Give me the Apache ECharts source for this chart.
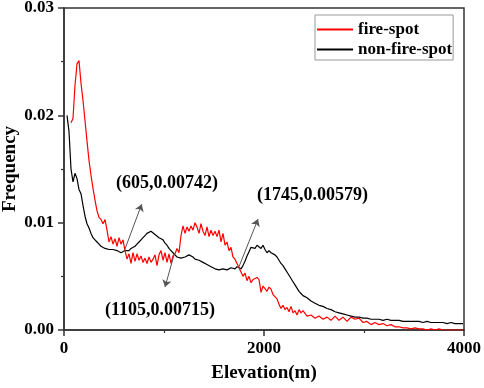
<!DOCTYPE html>
<html>
<head>
<meta charset="utf-8">
<script src="https://cdn.jsdelivr.net/npm/echarts@6/dist/echarts.min.js"></script>
<style>
  html, body { margin: 0; padding: 0; background: #fff; }
  #main { width: 484px; height: 388px; }
</style>
</head>
<body>
<div id="main"></div>
<script>
// elevation (m) - 20 m steps up to 2390, 40 m steps after
var elevation = [
  30, 50, 70, 90, 110, 130, 150, 170, 190, 210,
  230, 250, 270, 290, 310, 330, 350, 370, 390, 410,
  430, 450, 470, 490, 510, 530, 550, 570, 590, 610,
  630, 650, 670, 690, 710, 730, 750, 770, 790, 810,
  830, 850, 870, 890, 910, 930, 950, 970, 990, 1010,
  1030, 1050, 1070, 1090, 1110, 1130, 1150, 1170, 1190, 1210,
  1230, 1250, 1270, 1290, 1310, 1330, 1350, 1370, 1390, 1410,
  1430, 1450, 1470, 1490, 1510, 1530, 1550, 1570, 1590, 1610,
  1630, 1650, 1670, 1690, 1710, 1730, 1750, 1770, 1790, 1810,
  1830, 1850, 1870, 1890, 1910, 1930, 1950, 1970, 1990, 2010,
  2030, 2050, 2070, 2090, 2110, 2130, 2150, 2170, 2190, 2210,
  2230, 2250, 2270, 2290, 2310, 2330, 2350, 2370, 2390,
  2430, 2470, 2510, 2550, 2590, 2630, 2670, 2710, 2750, 2790,
  2830, 2870, 2910, 2950, 2990, 3030, 3070, 3110, 3150, 3190,
  3230, 3270, 3310, 3350, 3390, 3430, 3470, 3510, 3550, 3590,
  3630, 3670, 3710, 3750, 3790, 3830, 3870, 3910, 3950, 3990
];

var fireSpot = [
  null, null, 0.0193, 0.0197, 0.0228, 0.0248, 0.0251, 0.0230, 0.0214, 0.0195,
  0.0176, 0.0158, 0.0144, 0.0132, 0.0121, 0.0111, 0.0105, 0.0103, 0.0099, 0.0103,
  0.0093, 0.0082, 0.0087, 0.0080, 0.0085, 0.0078, 0.0086, 0.0080, 0.0084, 0.0074,
  0.0066, 0.0071, 0.0062, 0.0072, 0.0064, 0.0071, 0.0065, 0.0069, 0.0063, 0.0067,
  0.0062, 0.0068, 0.0063, 0.0066, 0.0070, 0.0060, 0.0070, 0.0074, 0.0065, 0.0072,
  0.0063, 0.0071, 0.0062, 0.0069, 0.0071, 0.0076, 0.0072, 0.0088, 0.0097, 0.0090,
  0.0096, 0.0092, 0.0097, 0.0093, 0.0100, 0.0096, 0.0090, 0.0099, 0.0092, 0.0088,
  0.0096, 0.0087, 0.0093, 0.0088, 0.0092, 0.0087, 0.0093, 0.0082, 0.0090, 0.0079,
  0.0082, 0.0074, 0.0077, 0.0068, 0.0066, 0.0062, 0.0058, 0.0057, 0.0050, 0.0053,
  0.0046, 0.0050, 0.0044, 0.0047, 0.0048, 0.0049, 0.0047, 0.0035, 0.0041, 0.0042,
  0.0036, 0.0040, 0.0038, 0.0033, 0.0034, 0.0029, 0.0024, 0.0020, 0.0023, 0.0019,
  0.0021, 0.0017, 0.0022, 0.0016, 0.0018, 0.0014, 0.0019, 0.0016, 0.0018,
  0.0013, 0.0014, 0.0011, 0.0013, 0.0010, 0.0012, 0.0009, 0.0013, 0.0009, 0.0012,
  0.0008, 0.0012, 0.0010, 0.0011, 0.0007, 0.0008, 0.0005, 0.0007, 0.0005, 0.0006,
  0.0004, 0.0005, 0.0003, 0.0003, 0.0002, 0.0002, 0.0001, 0.0002, 0.0001, 0.0001,
  0.0000, 0.0001, 0.0000, 0.0001, 0.0000, 0.0000, 0.0000, 0.0000, 0.0000, 0.0000
];

var nonFireSpot = [
  0.0200, 0.0185, 0.0150, 0.0138, 0.0146, 0.0141, 0.0131, 0.0127, 0.0116, 0.0106,
  0.0099, 0.0095, 0.0090, 0.0086, 0.0084, 0.0082, 0.0080, 0.0078, 0.0077, 0.0076,
  0.0076, 0.0075, 0.0075, 0.0075, 0.0074, 0.0074, 0.0073, 0.0072, 0.0073, 0.0074,
  0.0075, 0.0074, 0.0076, 0.0076, 0.0078, 0.0080, 0.0082, 0.0084, 0.0086, 0.0088,
  0.0090, 0.0091, 0.0092, 0.0091, 0.0089, 0.0088, 0.0086, 0.0085, 0.0084, 0.0081,
  0.0079, 0.0076, 0.0074, 0.0072, 0.0070, 0.0068, 0.0067, 0.0067, 0.0068, 0.0068,
  0.0069, 0.0070, 0.0069, 0.0068, 0.0066, 0.0065, 0.0065, 0.0064, 0.0063, 0.0062,
  0.0061, 0.0060, 0.0059, 0.0058, 0.0057, 0.0057, 0.0056, 0.0056, 0.0057, 0.0058,
  0.0056, 0.0057, 0.0058, 0.0059, 0.0057, 0.0059, 0.0058, 0.0057, 0.0060, 0.0064,
  0.0069, 0.0073, 0.0077, 0.0076, 0.0076, 0.0079, 0.0078, 0.0076, 0.0079, 0.0075,
  0.0072, 0.0074, 0.0072, 0.0071, 0.0070, 0.0068, 0.0065, 0.0062, 0.0060, 0.0057,
  0.0054, 0.0051, 0.0048, 0.0045, 0.0042, 0.0039, 0.0036, 0.0034, 0.0032,
  0.0030, 0.0027, 0.0025, 0.0023, 0.0022, 0.0020, 0.0019, 0.0017, 0.0016, 0.0015,
  0.0014, 0.0013, 0.0012, 0.0012, 0.0011, 0.0011, 0.0010, 0.0010, 0.0010, 0.0009,
  0.0010, 0.0009, 0.0009, 0.0009, 0.0008, 0.0008, 0.0008, 0.0008, 0.0008, 0.0007,
  0.0008, 0.0007, 0.0007, 0.0007, 0.0007, 0.0006, 0.0007, 0.0006, 0.0006, 0.0006
];

// annotated crossing points, where the arrow points to, and where the label sits
var annoPoints = [[605, 0.00742], [1105, 0.00715], [1745, 0.00579]];
var annoArrowTo = [[777, 0.01172], [1010, 0.0040], [1940, 0.01033]];
var annoLabelAt = [[1030, 0.01367], [960, 0.00186], [2485, 0.01256]];

var FONT = '"Liberation Serif", "Times New Roman", serif';

var myChart = echarts.init(document.getElementById('main'));

function pairs(ys) {
  var out = [];
  for (var i = 0; i < elevation.length; i++) {
    out.push([elevation[i], ys[i]]);
  }
  return out;
}

var arrowLines = [];
var labelPoints = [];
for (var i = 0; i < annoPoints.length; i++) {
  arrowLines.push([{ coord: annoPoints[i] }, { coord: annoArrowTo[i] }]);
  labelPoints.push({
    coord: annoLabelAt[i],
    value: '(' + annoPoints[i][0] + ',' + annoPoints[i][1] + ')'
  });
}

var options = {
  backgroundColor: '#fff',
  animation: false,
  grid: {
    left: 64, right: 20, top: 8, bottom: 58,
    containLabel: false,
    outerBoundsMode: 'none',
    show: true,
    borderColor: '#333',
    borderWidth: 1.5
  },
  legend: {
    orient: 'vertical',
    left: 315,
    top: 15,
    padding: [6, 1, 2, 2],
    itemGap: 3,
    itemWidth: 36,
    itemHeight: 2,
    icon: 'rect',
    borderColor: '#999',
    borderWidth: 1,
    textStyle: { fontFamily: FONT, fontSize: 17, fontWeight: 'bold', color: '#000' },
    data: ['fire-spot', 'non-fire-spot']
  },
  xAxis: {
    type: 'value',
    min: 0, max: 4000, interval: 2000,
    name: 'Elevation(m)',
    nameLocation: 'middle',
    nameGap: 34,
    nameMoveOverlap: false,
    nameTextStyle: { fontFamily: FONT, fontSize: 19, fontWeight: 'bold', color: '#000' },
    axisLine: { onZero: false, lineStyle: { color: '#333', width: 1.5 } },
    axisTick: { show: true, inside: false, length: 6, lineStyle: { width: 1.5 } },
    minorTick: { show: true, splitNumber: 2, length: 3, lineStyle: { color: '#333', width: 1.2 } },
    splitLine: { show: false },
    axisLabel: {
      fontFamily: FONT, fontSize: 17, fontWeight: 'bold', color: '#000', margin: 10,
      formatter: function (v) { return String(v); }
    }
  },
  yAxis: {
    type: 'value',
    min: 0, max: 0.03, interval: 0.01,
    name: 'Frequency',
    nameLocation: 'middle',
    nameGap: 44,
    nameMoveOverlap: false,
    nameTextStyle: { fontFamily: FONT, fontSize: 19, fontWeight: 'bold', color: '#000' },
    axisLine: { show: true, onZero: false, lineStyle: { color: '#333', width: 1.5 } },
    axisTick: { show: true, inside: false, length: 6, lineStyle: { width: 1.5 } },
    minorTick: { show: true, splitNumber: 2, length: 3, lineStyle: { color: '#333', width: 1.2 } },
    splitLine: { show: false },
    axisLabel: {
      fontFamily: FONT, fontSize: 17, fontWeight: 'bold', color: '#000', margin: 10,
      formatter: function (v) { return v.toFixed(2); }
    }
  },
  series: [
    {
      name: 'fire-spot',
      type: 'line',
      data: pairs(fireSpot),
      symbol: 'none',
      connectNulls: false,
      lineStyle: { color: '#ff0000', width: 1.2 },
      itemStyle: { color: '#ff0000' },
      z: 3
    },
    {
      name: 'non-fire-spot',
      type: 'line',
      data: pairs(nonFireSpot),
      symbol: 'none',
      lineStyle: { color: '#000', width: 1.2 },
      itemStyle: { color: '#000' },
      z: 2,
      markLine: {
        silent: true,
        symbol: ['none', 'arrow'],
        symbolSize: 7,
        lineStyle: { color: '#555', width: 1, type: 'solid' },
        label: { show: false },
        data: arrowLines
      },
      markPoint: {
        silent: true,
        symbol: 'circle',
        symbolSize: 0,
        label: {
          show: true,
          position: 'inside',
          formatter: function (p) { return p.value; },
          fontFamily: FONT, fontSize: 18, fontWeight: 'bold', color: '#000'
        },
        data: labelPoints
      }
    }
  ]
};

myChart.setOption(options);
</script>
</body>
</html>
